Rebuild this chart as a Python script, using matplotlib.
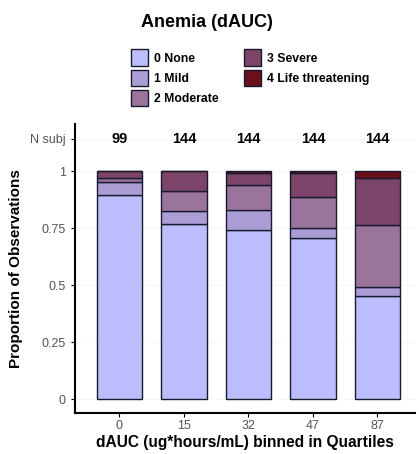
import numpy as np
import matplotlib
matplotlib.use("Agg")
import matplotlib.pyplot as plt
from matplotlib.patches import Patch

plt.rcParams["font.family"] = ["Liberation Sans", "DejaVu Sans"]

# Data
bins = ["0", "15", "32", "47", "87"]
n_subj = [99, 144, 144, 144, 144]
grade_labels = ["0 None", "1 Mild", "2 Moderate", "3 Severe", "4 Life threatening"]
grade_colors = ["#bcbdfc", "#ab9ed6", "#9b749c", "#7b4468", "#6a0f1c"]
none = [0.897, 0.768, 0.741, 0.706, 0.453]
mild = [0.058, 0.057, 0.089, 0.047, 0.041]
moderate = [0.015, 0.090, 0.111, 0.134, 0.272]
severe = [0.030, 0.085, 0.053, 0.106, 0.203]
life_threat = [0.0, 0.0, 0.006, 0.007, 0.031]

fig = plt.figure(figsize=(4.19, 4.54), dpi=100, facecolor="white")
ax = fig.add_axes([0.179, 0.0903, 0.811, 0.6367])

x = np.arange(len(bins))
bottom = np.zeros(len(bins))
for vals, col, lab in zip([none, mild, moderate, severe, life_threat], grade_colors, grade_labels):
    ax.bar(x, vals, bottom=bottom, width=0.71, color=col, edgecolor="#1a1a2e",
           linewidth=1.0, label=lab, zorder=3)
    bottom += np.array(vals)

# N subj row
for xi, n in zip(x, n_subj):
    ax.text(xi, 1.142, str(n), ha="center", va="center", fontsize=10.5,
            fontweight="bold", color="black")

ax.set_xlim(-0.69, 4.58)
ax.set_ylim(-0.06, 1.208)
ax.set_xticks(x)
ax.set_xticklabels(bins)
ax.set_yticks([0, 0.25, 0.5, 0.75, 1, 1.142])
ax.set_yticklabels(["0", "0.25", "0.5", "0.75", "1", "N subj"])
ax.tick_params(axis="both", colors="black", labelcolor="#555555", labelsize=9, length=3, width=0.8)
ax.tick_params(axis="x", pad=2)

ax.grid(True, axis="y", color="#eeeeee", linestyle="--", linewidth=0.5, zorder=0)
ax.set_axisbelow(True)

for s in ["top", "right"]:
    ax.spines[s].set_visible(False)
for s in ["left", "bottom"]:
    ax.spines[s].set_linewidth(1.5)
    ax.spines[s].set_color("black")

ax.set_ylabel("Proportion of Observations", fontsize=11, fontweight="bold", labelpad=5)
ax.set_xlabel("dAUC (ug*hours/mL) binned in Quartiles", fontsize=11.2, fontweight="bold", labelpad=2)

fig.text(0.494, 0.951, "Anemia (dAUC)", ha="center", va="center", fontsize=13, fontweight="bold")

handles = [Patch(facecolor=c, edgecolor="#1a1a2e", linewidth=1.0) for c in grade_colors]
fig.legend(handles, grade_labels, loc="upper left", bbox_to_anchor=(0.312, 0.891),
           ncol=2, frameon=False, prop={"weight": "bold", "size": 8.8},
           handlelength=1.45, handleheight=1.7, handletextpad=0.45, labelspacing=0.3,
           columnspacing=2.05, borderpad=0, borderaxespad=0)

fig.savefig("out.png", dpi=100, facecolor="white")
